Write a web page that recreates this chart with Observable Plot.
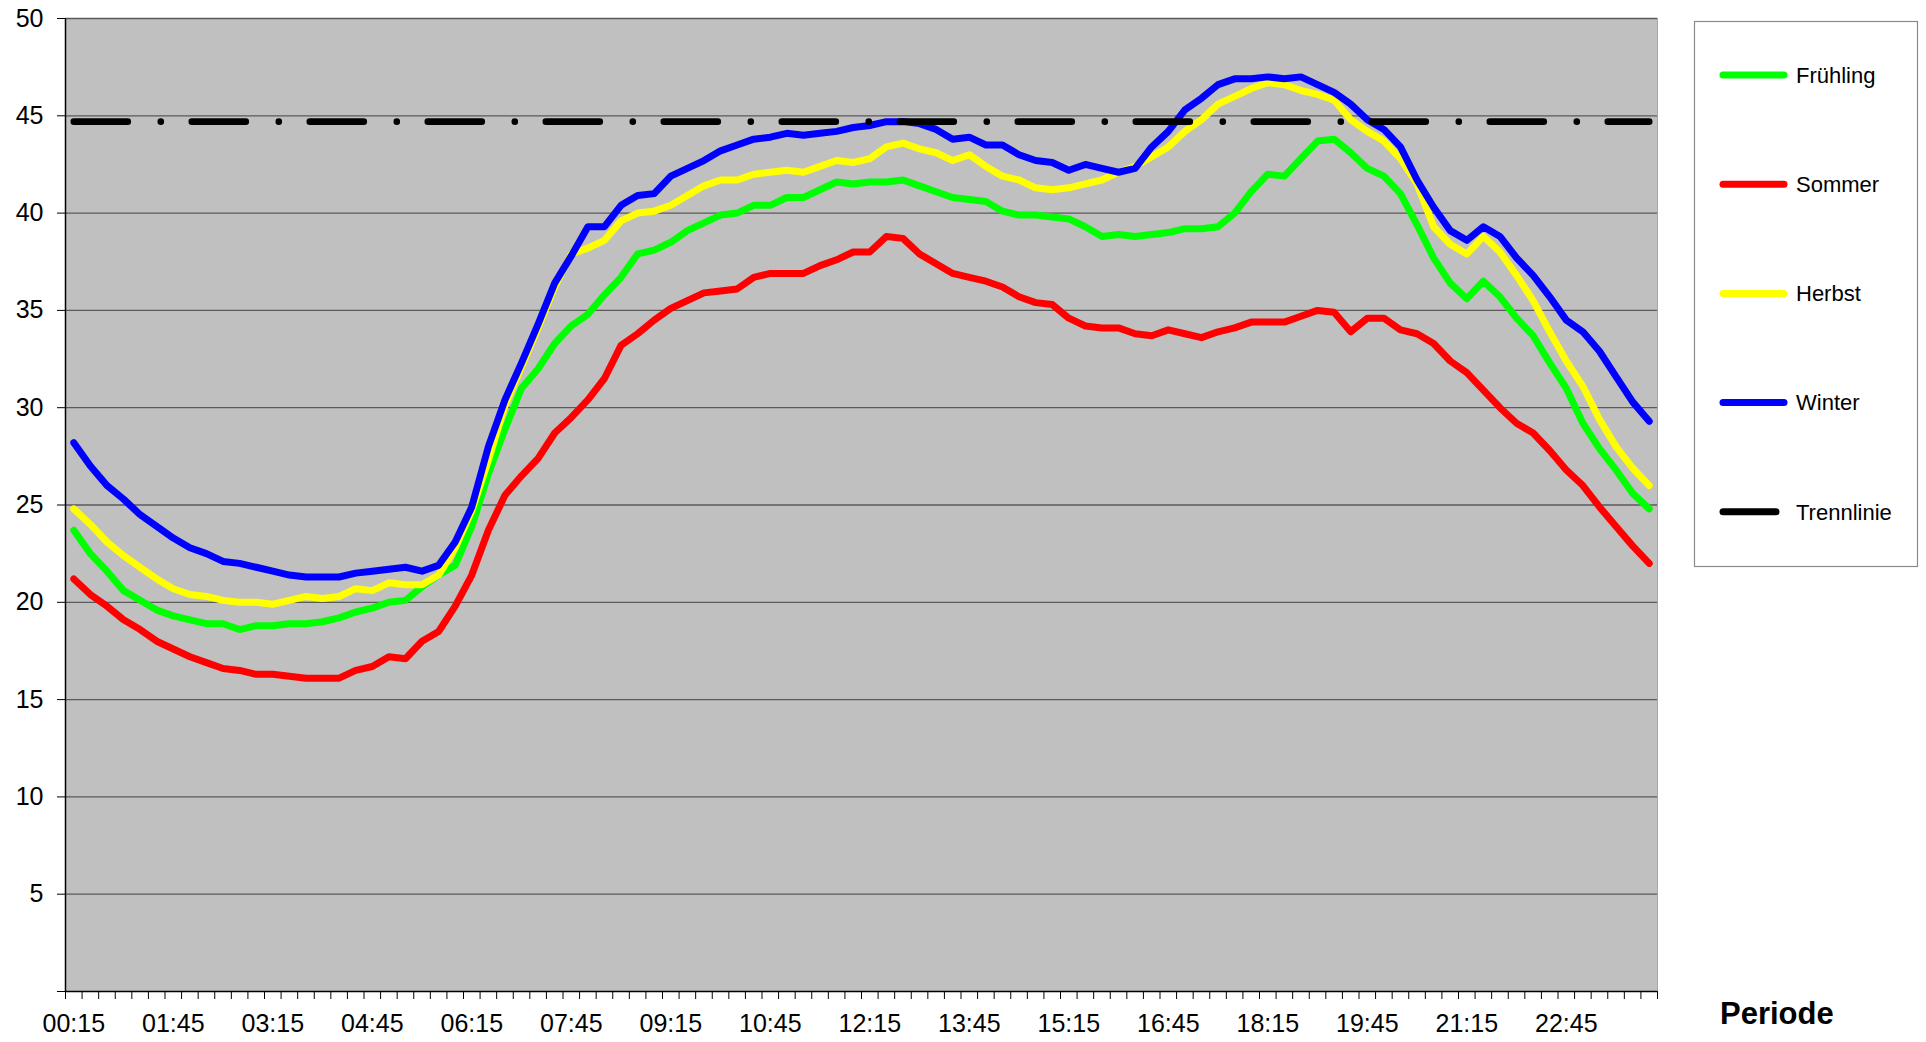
<!DOCTYPE html>
<html><head><meta charset="utf-8">
<script src="https://cdn.jsdelivr.net/npm/d3@7"></script>
<script src="https://cdn.jsdelivr.net/npm/@observablehq/plot@0.6"></script>
<style>body{margin:0;background:#fff} #chart{width:1926px;height:1042px}</style>
</head><body><div id="chart"></div>
<script>
// Viertelstunden-Perioden 00:15 … 24:00
const periods = d3.range(96).map(i => { const m = (i + 1) * 15; return String(Math.floor(m / 60)).padStart(2, "0") + ":" + String(m % 60).padStart(2, "0"); });
const seriesNames = ["Frühling", "Sommer", "Herbst", "Winter"];
const seriesColors = ["#00FF00", "#FF0000", "#FFFF00", "#0000FF"];
const yTicks = [0, 5, 10, 15, 20, 25, 30, 35, 40, 45, 50];
const xLabelIdx = d3.range(0, 96, 6);

const fruehling = [23.7,22.5,21.6,20.6,20.1,19.6,19.3,19.1,18.9,18.9,18.6,18.8,18.8,18.9,18.9,19.0,19.2,19.5,19.7,20.0,20.1,20.8,21.4,21.9,23.9,26.6,28.9,31.0,32.0,33.3,34.2,34.8,35.8,36.7,37.9,38.1,38.5,39.1,39.5,39.9,40.0,40.4,40.4,40.8,40.8,41.2,41.6,41.5,41.6,41.6,41.7,41.4,41.1,40.8,40.7,40.6,40.1,39.9,39.9,39.8,39.7,39.3,38.8,38.9,38.8,38.9,39.0,39.2,39.2,39.3,40.0,41.1,42.0,41.9,42.8,43.7,43.8,43.1,42.3,41.9,41.0,39.4,37.7,36.4,35.6,36.5,35.7,34.6,33.7,32.3,31.0,29.2,27.9,26.8,25.6,24.8];
const sommer = [21.2,20.4,19.8,19.1,18.6,18.0,17.6,17.2,16.9,16.6,16.5,16.3,16.3,16.2,16.1,16.1,16.1,16.5,16.7,17.2,17.1,18.0,18.5,19.8,21.4,23.7,25.5,26.5,27.4,28.7,29.5,30.4,31.5,33.2,33.8,34.5,35.1,35.5,35.9,36.0,36.1,36.7,36.9,36.9,36.9,37.3,37.6,38.0,38.0,38.8,38.7,37.9,37.4,36.9,36.7,36.5,36.2,35.7,35.4,35.3,34.6,34.2,34.1,34.1,33.8,33.7,34.0,33.8,33.6,33.9,34.1,34.4,34.4,34.4,34.7,35.0,34.9,33.9,34.6,34.6,34.0,33.8,33.3,32.4,31.8,30.9,30.0,29.2,28.7,27.8,26.8,26.0,24.9,23.9,22.9,22.0];
const herbst = [24.8,24.0,23.1,22.4,21.8,21.2,20.7,20.4,20.3,20.1,20.0,20.0,19.9,20.1,20.3,20.2,20.3,20.7,20.6,21.0,20.9,20.9,21.4,22.8,24.7,27.3,30.1,32.1,34.1,36.2,37.9,38.2,38.6,39.6,40.0,40.1,40.4,40.9,41.4,41.7,41.7,42.0,42.1,42.2,42.1,42.4,42.7,42.6,42.8,43.4,43.6,43.3,43.1,42.7,43.0,42.4,41.9,41.7,41.3,41.2,41.3,41.5,41.7,42.1,42.4,42.9,43.4,44.2,44.8,45.6,46.0,46.4,46.7,46.6,46.3,46.1,45.8,44.8,44.2,43.7,42.8,41.5,39.3,38.4,37.9,38.8,38.0,36.8,35.5,33.9,32.4,31.1,29.4,28.0,26.9,26.0];
const winter = [28.2,27.0,26.0,25.3,24.5,23.9,23.3,22.8,22.5,22.1,22.0,21.8,21.6,21.4,21.3,21.3,21.3,21.5,21.6,21.7,21.8,21.6,21.9,23.1,24.9,28.0,30.4,32.3,34.3,36.4,37.8,39.3,39.3,40.4,40.9,41.0,41.9,42.3,42.7,43.2,43.5,43.8,43.9,44.1,44.0,44.1,44.2,44.4,44.5,44.7,44.7,44.6,44.3,43.8,43.9,43.5,43.5,43.0,42.7,42.6,42.2,42.5,42.3,42.1,42.3,43.4,44.2,45.3,45.9,46.6,46.9,46.9,47.0,46.9,47.0,46.6,46.2,45.6,44.8,44.3,43.4,41.7,40.3,39.1,38.6,39.3,38.8,37.7,36.8,35.7,34.5,33.9,32.9,31.6,30.3,29.3];
const trennlinie = 44.7;
const seriesValues = [fruehling, sommer, herbst, winter];

const idx = d3.range(periods.length);
const lineW = 7;
const font = "'Liberation Sans', Arial, sans-serif";

const seriesMarks = seriesValues.map((vals, k) =>
  Plot.line(idx, {x: i => i, y: i => vals[i], stroke: seriesColors[k], strokeWidth: lineW, strokeLinejoin: "round", strokeLinecap: "round"})
);

const chart = Plot.plot({
  width: 1926, height: 1042,
  marginLeft: 65, marginRight: 269, marginTop: 18, marginBottom: 51,
  style: {fontFamily: font, fontSize: "25px", color: "#000", background: "#fff"},
  x: {type: "linear", domain: [-0.5, periods.length - 0.5], label: null},
  y: {domain: [0, 50], label: null},
  marks: [
    Plot.frame({fill: "#C0C0C0", stroke: "#A8A8A8"}),
    Plot.ruleY(yTicks.filter(d => d > 0), {stroke: "#5A5A5A", strokeWidth: 1.3}),
    ...seriesMarks,
    Plot.line(idx, {x: i => i, y: () => trennlinie, stroke: "#000", strokeWidth: 6.6, strokeDasharray: "54,33,0,31", strokeLinecap: "round"}),
    Plot.ruleX([-0.5], {stroke: "#000", strokeWidth: 1.5}),
    Plot.ruleY([0], {stroke: "#000", strokeWidth: 1.5}),
    Plot.axisY({ticks: yTicks, tickSize: 8, tickPadding: 14, tickFormat: d => d === 0 ? "" : String(d), fontSize: 25, label: null}),
    Plot.axisX({ticks: d3.range(periods.length + 1).map(k => k - 0.5), tickSize: 8, tickFormat: () => "", label: null}),
    Plot.axisX({ticks: xLabelIdx, tickSize: 0, tickPadding: 23, tickFormat: i => periods[i], fontSize: 25, label: null})
  ]
});
document.getElementById("chart").appendChild(chart);

// Legende und Achsentitel
const svg = d3.select(chart);
const lg = svg.append("g").attr("font-family", font).attr("text-anchor", "start");
lg.append("rect").attr("x", 1694.5).attr("y", 21.5).attr("width", 223).attr("height", 545).attr("fill", "#fff").attr("stroke", "#8A8A8A").attr("stroke-width", 1.2);
const legendItems = [...seriesNames.map((n, k) => ({n, c: seriesColors[k], dash: false})), {n: "Trennlinie", c: "#000", dash: true}];
legendItems.forEach((d, k) => {
  const y = 75 + k * 109.2;
  lg.append("line").attr("x1", 1723).attr("x2", d.dash ? 1776 : 1784).attr("y1", y).attr("y2", y)
    .attr("stroke", d.c).attr("stroke-width", lineW).attr("stroke-linecap", "round");
  lg.append("text").attr("x", 1796).attr("y", y).attr("dy", "0.35em").attr("font-size", 22).attr("fill", "#000").attr("text-anchor", "start").text(d.n);
});
svg.append("text").attr("x", 1720).attr("y", 1024).attr("font-family", font).attr("font-weight", "bold").attr("font-size", 31).attr("fill", "#000").attr("text-anchor", "start").text("Periode");
</script>
</body></html>
